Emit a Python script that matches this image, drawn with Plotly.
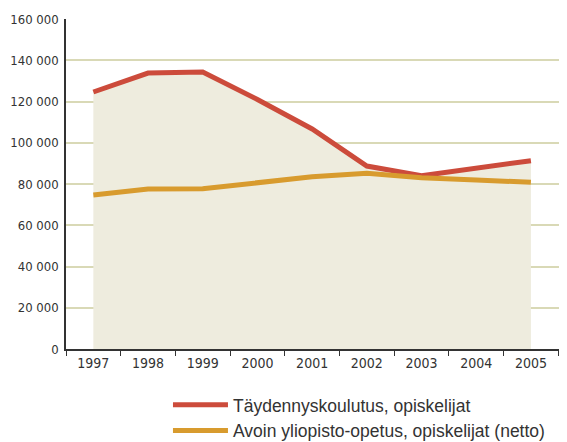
import plotly.graph_objects as go

years = ["1997", "1998", "1999", "2000", "2001", "2002", "2003", "2004", "2005"]
taydennys = [124600, 133800, 134300, 121000, 106700, 88700, 84000, 87800, 91300]
avoin = [74700, 77600, 77700, 80500, 83500, 85200, 83000, 82000, 80800]
y_ticks = [0, 20000, 40000, 60000, 80000, 100000, 120000, 140000, 160000]
y_labels = ["0", "20 000", "40 000", "60 000", "80 000", "100 000", "120 000", "140 000", "160 000"]
names = ["Täydennyskoulutus, opiskelijat", "Avoin yliopisto-opetus, opiskelijat (netto)"]

cond = "DejaVu Sans Condensed, Roboto Condensed, sans-serif"
x_font = dict(family=cond, size=14, color="#333333")
y_font = dict(family=cond, size=13, color="#333333")

fig = go.Figure()
fig.add_trace(go.Scatter(x=years, y=taydennys, mode="lines", fill="tozeroy",
                         fillcolor="#EEECDE", line=dict(width=0, color="rgba(0,0,0,0)"),
                         showlegend=False, hoverinfo="skip"))
fig.add_trace(go.Scatter(x=years, y=taydennys, mode="lines", name=names[0],
                         line=dict(color="#CC4B3B", width=5), legendgroup="a"))
fig.add_trace(go.Scatter(x=years, y=avoin, mode="lines", name=names[1],
                         line=dict(color="#D89B2E", width=5), legendgroup="b"))

# page body has an 8px margin, so the figure is sized/offset to fit the 567x442 window
fig.update_layout(
    width=559, height=434,
    margin=dict(l=58, r=6, t=11, b=93, autoexpand=False),
    paper_bgcolor="white", plot_bgcolor="white",
    font=x_font,
    legend=dict(x=0.206, y=-0.115, xanchor="left", yanchor="top",
                font=dict(family="Liberation Sans, Arial", size=17.5, color="#333333"),
                itemwidth=55, traceorder="grouped", tracegroupgap=0),
    xaxis=dict(type="category", range=[-0.5, 8.55], tickson="boundaries",
               ticks="outside", ticklen=5, tickcolor="#333333", tickwidth=1,
               showline=True, linecolor="#333333", linewidth=1.5,
               showgrid=False, zeroline=False, automargin=False,
               tickfont=x_font),
    yaxis=dict(range=[0, 160000], tickvals=y_ticks, ticktext=y_labels,
               showline=True, linecolor="#333333", linewidth=1.5,
               gridcolor="#D9D9B6", gridwidth=2, zeroline=False,
               ticks="", ticklen=0, ticklabelstandoff=3, automargin=False,
               tickfont=y_font),
)

fig.write_html("out.html")
